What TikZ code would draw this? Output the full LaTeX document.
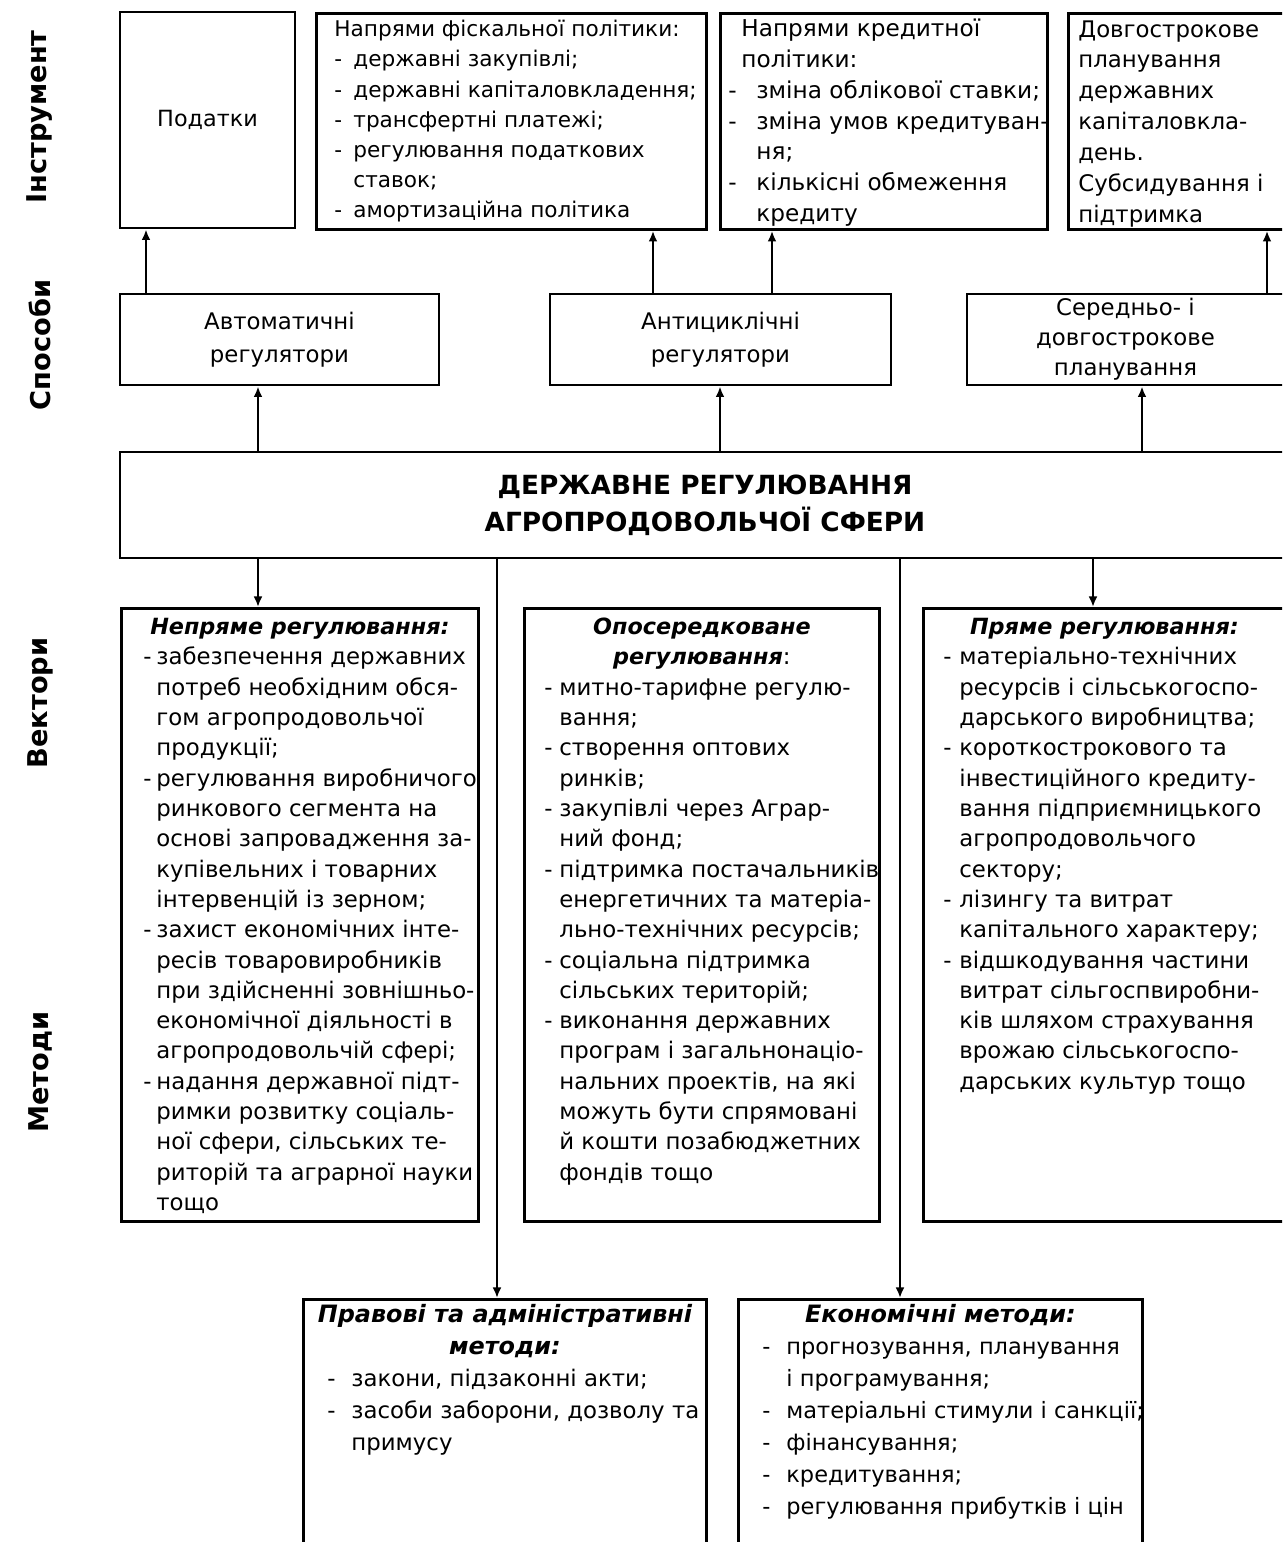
\documentclass[tikz,border=0pt]{standalone}
\usepackage{fontspec}
\setmainfont{DejaVu Sans}
\usetikzlibrary{arrows.meta,positioning,calc}
\newlength\px
\setlength\px{0.02cm}
\newcommand{\dsh}[1]{\makebox[#1\px][l]{-}}
\newcommand{\ind}[1]{\hspace*{#1\px}}
\newcommand{\ttl}[2]{\makebox[#1\px][c]{#2}}
\newcommand{\hd}[1]{{\fontsize{12.7}{17}\selectfont\bfseries\itshape #1}}
\newcommand{\cellbox}[3]{\parbox[t][#2\px][t]{#1\px}{\begin{tabular}[t]{@{}l@{}}#3\end{tabular}}}
\tikzset{
  frame/.style={draw, line width=1.6pt},
  tbox/.style={frame, anchor=north west, inner ysep=2\px},
  cbox/.style={frame, inner sep=0pt, align=center},
  txt/.style 2 args={font=\fontsize{#1}{#2}\selectfont},
  side/.style={rotate=90, font=\bfseries\fontsize{15.5}{19}\selectfont},
  arr/.style={line width=1.3pt, arrows={-Latex[length=6pt,width=5pt]}}
}
\begin{document}
\begin{tikzpicture}[x=0.02cm, y=-0.02cm]
\clip (0,0) rectangle (1282,1542);

% row labels
\node[side] (lblinstr) at (40,117) {Інструмент};
\node[side] (lblways) at (40,345) {Способи};
\node[side] (lblvect) at (40,703) {Вектори};
\node[side] (lblmeth) at (40,1072) {Методи};

% instruments
\node[cbox, txt={12.7}{17}, minimum width=175\px, minimum height=216\px] (podatky) at (207.5,120) {Податки};
\node[tbox, txt={12.3}{17.2}, inner xsep=18\px] (fiscal) at (315,12) {\cellbox{354}{212}{%
Напрями фіскальної політики:\\
\dsh{19}державні закупівлі;\\
\dsh{19}державні капіталовкладення;\\
\dsh{19}трансфертні платежі;\\
\dsh{19}регулювання податкових\\
\ind{19}ставок;\\
\dsh{19}амортизаційна політика}};
\node[tbox, txt={13.2}{17.5}, inner xsep=8\px] (credit) at (719,12) {\cellbox{311}{212}{%
\ind{13}Напрями кредитної\\
\ind{13}політики:\\
\dsh{28}зміна облікової ставки;\\
\dsh{28}зміна умов кредитуван-\\
\ind{28}ня;\\
\dsh{28}кількісні обмеження\\
\ind{28}кредиту}};
\node[tbox, txt={13}{17.6}, inner xsep=10\px] (longterm) at (1067,12) {\cellbox{203}{212}{%
Довгострокове\\
планування\\
державних\\
капіталовкла-\\
день.\\
Субсидування і\\
підтримка}};

% ways
\node[cbox, txt={13}{18.6}, minimum width=319\px, minimum height=91\px] (auto) at (279.5,339.5) {Автоматичні\\регулятори};
\node[cbox, txt={13}{18.6}, minimum width=341\px, minimum height=91\px] (anticycl) at (720.5,339.5) {Антициклічні\\регулятори};
\node[cbox, txt={13}{17}, minimum width=317\px, minimum height=91\px] (midlong) at (1125.5,339.5) {Середньо- і\\довгострокове\\планування};

\draw[arr] (auto.north -| 146,0) -- (podatky.south -| 146,0);
\draw[arr] (anticycl.north -| 653,0) -- (fiscal.south -| 653,0);
\draw[arr] (anticycl.north -| 772,0) -- (credit.south -| 772,0);
\draw[arr] (midlong.north -| 1267,0) -- (longterm.south -| 1267,0);

% centre
\node[cbox, font=\bfseries\fontsize{15}{21}\selectfont, minimum width=1170\px, minimum height=106\px] (state) at (705,505) {ДЕРЖАВНЕ РЕГУЛЮВАННЯ\\АГРОПРОДОВОЛЬЧОЇ СФЕРИ};

\draw[arr] (state.north -| 258,0) -- (auto.south -| 258,0);
\draw[arr] (state.north -| 720,0) -- (anticycl.south -| 720,0);
\draw[arr] (state.north -| 1142,0) -- (midlong.south -| 1142,0);

% vectors
\node[tbox, txt={13}{17.25}, inner xsep=22\px, inner ysep=5\px] (indirect) at (120,607) {\cellbox{313}{603}{%
\ttl{313}{\hd{Непряме регулювання:}}\\
\dsh{13}забезпечення державних\\
\ind{13}потреб необхідним обся-\\
\ind{13}гом агропродовольчої\\
\ind{13}продукції;\\
\dsh{13}регулювання виробничого\\
\ind{13}ринкового сегмента на\\
\ind{13}основі запровадження за-\\
\ind{13}купівельних і товарних\\
\ind{13}інтервенцій із зерном;\\
\dsh{13}захист економічних інте-\\
\ind{13}ресів товаровиробників\\
\ind{13}при здійсненні зовнішньо-\\
\ind{13}економічної діяльності в\\
\ind{13}агропродовольчій сфері;\\
\dsh{13}надання державної підт-\\
\ind{13}римки розвитку соціаль-\\
\ind{13}ної сфери, сільських те-\\
\ind{13}риторій та аграрної науки\\
\ind{13}тощо}};
\node[tbox, txt={13}{17.25}, inner xsep=20\px, inner ysep=5\px] (mediated) at (523,607) {\cellbox{315}{603}{%
\ttl{315}{\hd{Опосередковане}}\\
\ttl{315}{\hd{регулювання}:}\\
\dsh{15}митно-тарифне регулю-\\
\ind{15}вання;\\
\dsh{15}створення оптових\\
\ind{15}ринків;\\
\dsh{15}закупівлі через Аграр-\\
\ind{15}ний фонд;\\
\dsh{15}підтримка постачальників\\
\ind{15}енергетичних та матеріа-\\
\ind{15}льно-технічних ресурсів;\\
\dsh{15}соціальна підтримка\\
\ind{15}сільських територій;\\
\dsh{15}виконання державних\\
\ind{15}програм і загальнонаціо-\\
\ind{15}нальних проектів, на які\\
\ind{15}можуть бути спрямовані\\
\ind{15}й кошти позабюджетних\\
\ind{15}фондів тощо}};
\node[tbox, txt={13}{17.25}, inner xsep=20\px, inner ysep=5\px] (direct) at (922,607) {\cellbox{322}{603}{%
\ttl{322}{\hd{Пряме регулювання:}}\\
\dsh{16}матеріально-технічних\\
\ind{16}ресурсів і сільськогоспо-\\
\ind{16}дарського виробництва;\\
\dsh{16}короткострокового та\\
\ind{16}інвестиційного кредиту-\\
\ind{16}вання підприємницького\\
\ind{16}агропродовольчого\\
\ind{16}сектору;\\
\dsh{16}лізингу та витрат\\
\ind{16}капітального характеру;\\
\dsh{16}відшкодування частини\\
\ind{16}витрат сільгоспвиробни-\\
\ind{16}ків шляхом страхування\\
\ind{16}врожаю сільськогоспо-\\
\ind{16}дарських культур тощо}};

% methods
\node[tbox, txt={13}{18.2}, inner xsep=24\px, inner ysep=1\px] (legal) at (302,1298) {\cellbox{355}{260}{%
\ttl{355}{\hd{\fontsize{13.6}{18}\selectfont Правові та адміністративні}}\\
\ttl{355}{\hd{\fontsize{13.6}{18}\selectfont методи:}}\\
\dsh{24}закони, підзаконні акти;\\
\dsh{24}засоби заборони, дозволу та\\
\ind{24}примусу}};
\node[tbox, txt={12.8}{18.2}, inner xsep=24\px, inner ysep=1\px] (econ) at (737,1298) {\cellbox{356}{260}{%
\ttl{356}{\hd{\fontsize{13.6}{18}\selectfont Економічні методи:}}\\
\dsh{24}прогнозування, планування\\
\ind{24}і програмування;\\
\dsh{24}матеріальні стимули і санкції;\\
\dsh{24}фінансування;\\
\dsh{24}кредитування;\\
\dsh{24}регулювання прибутків і цін}};

\draw[arr] (state.south -| 258,0) -- (indirect.north -| 258,0);
\draw[arr] (state.south -| 1093,0) -- (direct.north -| 1093,0);
\draw[arr] (state.south -| 497,0) -- (legal.north -| 497,0);
\draw[arr] (state.south -| 900,0) -- (econ.north -| 900,0);
\end{tikzpicture}
\end{document}
